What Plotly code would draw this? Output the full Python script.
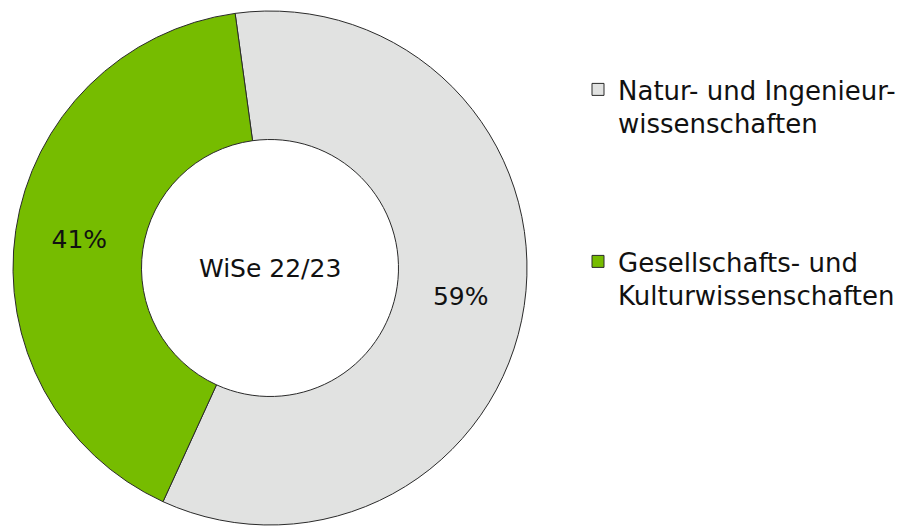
import plotly.graph_objects as go

labels = ["Natur- und Ingenieur-<br>wissenschaften<br> <br> <br> ",
          "Gesellschafts- und<br>Kulturwissenschaften"]
values = [59, 41]
colors = ["#e1e2e1", "#76bc00"]
center_text = "WiSe 22/23"

FONT = "DejaVu Sans"
W, H = 910, 527
OFF = 8  # browser body margin

def px(x):
    return (x - OFF) / W

def py(y):
    return 1 - (y - OFF) / H

fig = go.Figure(go.Pie(
    labels=labels,
    values=values,
    sort=False,
    direction="clockwise",
    rotation=-7.8,
    hole=0.5,
    marker=dict(colors=colors, line=dict(color="#2a2a2a", width=1)),
    textinfo="percent",
    texttemplate="%{percent:.0%}",
    textposition="inside",
    insidetextorientation="horizontal",
    textfont=dict(family=FONT, size=25, color="#111111"),
    domain=dict(x=[px(12), px(528)], y=[py(525), py(11)]),
    hoverinfo="label+percent",
))

fig.add_annotation(text=center_text, x=px(270), y=py(268), xref="paper", yref="paper",
                   xanchor="center", yanchor="middle",
                   showarrow=False, font=dict(family=FONT, size=25, color="#111111"))

fig.update_layout(
    width=W, height=H,
    margin=dict(l=0, r=0, t=0, b=0),
    paper_bgcolor="white",
    plot_bgcolor="white",
    font=dict(family=FONT, size=26, color="#111111"),
    legend=dict(x=px(578), y=py(66), xanchor="left", yanchor="top",
                valign="top", font=dict(family=FONT, size=26, color="#111111"),
                bgcolor="rgba(0,0,0,0)"),
    showlegend=True,
)

fig.write_html("out.html")
